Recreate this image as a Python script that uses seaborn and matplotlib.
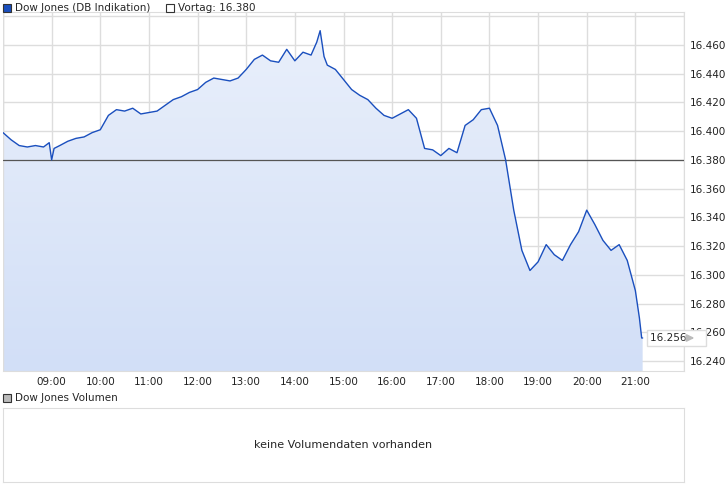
import matplotlib
matplotlib.use("Agg")
import matplotlib.pyplot as plt
import seaborn as sns
import numpy as np
import pandas as pd
from matplotlib.patches import Polygon, Rectangle
from matplotlib.colors import LinearSegmentedColormap

sns.set_style("white")
plt.rcParams['font.family'] = ['DejaVu Sans']

times = [8.0, 8.167, 8.333, 8.5, 8.667, 8.833, 8.95, 9.0, 9.05, 9.167, 9.333, 9.5, 9.667, 9.833,
         10.0, 10.167, 10.333, 10.5, 10.667, 10.833, 11.0, 11.167, 11.333, 11.5, 11.667, 11.833,
         12.0, 12.167, 12.333, 12.5, 12.667, 12.833, 13.0, 13.167, 13.333, 13.5, 13.667, 13.833,
         14.0, 14.167, 14.333, 14.45, 14.52, 14.6, 14.667, 14.833, 15.0, 15.167, 15.333, 15.5,
         15.667, 15.833, 16.0, 16.167, 16.333, 16.5, 16.667, 16.833, 17.0, 17.167, 17.333, 17.5,
         17.667, 17.833, 18.0, 18.167, 18.333, 18.5, 18.667, 18.833, 19.0, 19.167, 19.333, 19.5,
         19.667, 19.833, 20.0, 20.167, 20.333, 20.5, 20.667, 20.833, 21.0, 21.083, 21.13, 21.15]
values = [16.399, 16.394, 16.390, 16.389, 16.390, 16.389, 16.392, 16.380, 16.388, 16.390, 16.393,
          16.395, 16.396, 16.399, 16.401, 16.411, 16.415, 16.414, 16.416, 16.412, 16.413, 16.414,
          16.418, 16.422, 16.424, 16.427, 16.429, 16.434, 16.437, 16.436, 16.435, 16.437, 16.443,
          16.450, 16.453, 16.449, 16.448, 16.457, 16.449, 16.455, 16.453, 16.462, 16.470, 16.452,
          16.446, 16.443, 16.436, 16.429, 16.425, 16.422, 16.416, 16.411, 16.409, 16.412, 16.415,
          16.409, 16.388, 16.387, 16.383, 16.388, 16.385, 16.404, 16.408, 16.415, 16.416, 16.404,
          16.380, 16.345, 16.317, 16.303, 16.309, 16.321, 16.314, 16.310, 16.321, 16.330, 16.345,
          16.335, 16.324, 16.317, 16.321, 16.310, 16.289, 16.270, 16.256, 16.256]
vortag = 16.380
yticks = [16.24, 16.26, 16.28, 16.30, 16.32, 16.34, 16.36, 16.38, 16.40, 16.42, 16.44, 16.46]
xticks = list(range(9, 22))

df = pd.DataFrame({"t": times, "v": values})
W, H = 726, 496
fig = plt.figure(figsize=(W/100, H/100), dpi=100)
ax = fig.add_axes([3/W, (H-371)/H, 681/W, 359/H])
ymin, ymax = 16.233, 16.483
ax.set_xlim(8.0, 22.0)
ax.set_ylim(ymin, ymax)

grad = np.linspace(0, 1, 256).reshape(-1, 1)
cmap = LinearSegmentedColormap.from_list("g", ["#d2dff7", "#eaf0fb"])
im = ax.imshow(grad, extent=[8.0, times[-1], ymin, ymax], origin="lower", cmap=cmap,
               aspect="auto", zorder=1)
poly = Polygon(list(zip(times, values)) + [(times[-1], ymin), (times[0], ymin)],
               closed=True, transform=ax.transData, facecolor="none", edgecolor="none")
ax.add_patch(poly)
im.set_clip_path(poly)

for t in range(8, 23):
    ax.axvline(t, color="#dddddd", lw=1, zorder=0.5)
for y in np.arange(16.24, 16.481, 0.02):
    ax.axhline(y, color="#dddddd", lw=1, zorder=0.5)
ax.axvline(8, color="#dddddd", lw=1, zorder=2)
ax.axhline(vortag, color="#555555", lw=0.9, zorder=3)

sns.lineplot(data=df, x="t", y="v", ax=ax, color="#1a4fbe", lw=1.0, zorder=4)
ax.set_xlabel("")
ax.set_ylabel("")
for s in ax.spines.values():
    s.set_color("#dddddd")
ax.spines["left"].set_visible(False)
ax.yaxis.tick_right()
ax.set_yticks(yticks)
ax.set_yticklabels([f"{v:.3f}" for v in yticks])
ax.set_xticks(xticks)
ax.set_xticklabels([f"{h:02d}:00" for h in xticks])
ax.tick_params(axis="both", labelsize=7.5, length=0, pad=4, colors="#222222")

ax.text(21.3, 16.256, "16.256     ", fontsize=7.5, va="center", ha="left",
        bbox=dict(boxstyle="square,pad=0.3", fc="white", ec="#dddddd"), zorder=6, clip_on=False)
ax.annotate("", xy=(22.27, 16.256), xytext=(22.07, 16.256), annotation_clip=False,
            arrowprops=dict(arrowstyle="-|>", color="#bbbbbb", lw=1.5), zorder=7)

fig.patches.append(Rectangle((3/W, (H-12)/H), 8/W, 8/H, transform=fig.transFigure,
                             fc="#1a4fbe", ec="#333333", lw=0.8))
fig.text(15/W, (H-8)/H, "Dow Jones (DB Indikation)", fontsize=7.5, va="center")
fig.patches.append(Rectangle((166/W, (H-12)/H), 8/W, 8/H, transform=fig.transFigure,
                             fc="white", ec="#333333", lw=0.8))
fig.text(178/W, (H-8)/H, "Vortag: 16.380", fontsize=7.5, va="center")
fig.patches.append(Rectangle((3/W, (H-402)/H), 8/W, 8/H, transform=fig.transFigure,
                             fc="#bbbbbb", ec="#333333", lw=0.8))
fig.text(15/W, (H-398)/H, "Dow Jones Volumen", fontsize=7.5, va="center")

ax2 = fig.add_axes([3/W, 14/H, 681/W, 74/H])
ax2.set_xticks([]); ax2.set_yticks([])
for s in ax2.spines.values():
    s.set_color("#dddddd")
ax2.text(0.5, 0.5, "keine Volumendaten vorhanden", transform=ax2.transAxes,
         ha="center", va="center", fontsize=8)

fig.savefig("out.png", dpi=100)
